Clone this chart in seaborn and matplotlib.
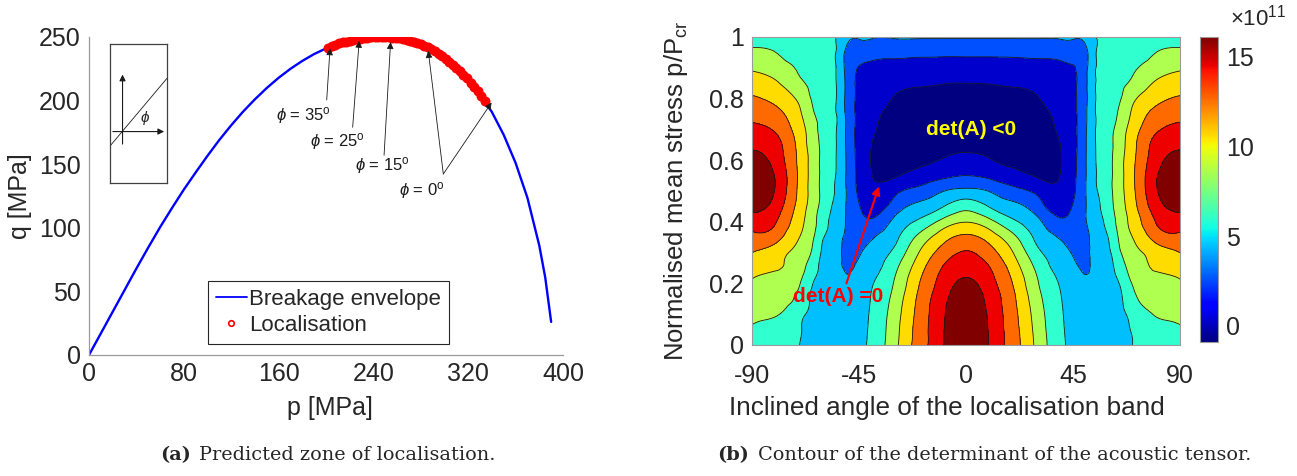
import numpy as np
import pandas as pd
import matplotlib
matplotlib.use("Agg")
import matplotlib.pyplot as plt
import matplotlib.tri as mtri
import seaborn as sns
from matplotlib.lines import Line2D
from matplotlib.colors import Normalize
from matplotlib.cm import ScalarMappable

sns.set_theme(style="white")
plt.rcParams["font.family"] = ["Liberation Sans", "DejaVu Sans"]
plt.rcParams["mathtext.fontset"] = "custom"
plt.rcParams["mathtext.rm"] = "Liberation Sans"
plt.rcParams["mathtext.it"] = "Liberation Sans:italic"
plt.rcParams["axes.unicode_minus"] = False

# ---- (a) breakage envelope ----
env_p = [0, 10, 20, 30, 40, 50, 60, 70, 80, 90, 100, 110, 120, 130, 140, 150, 160, 170,
         180, 190, 200, 210, 220, 230, 240, 250, 260, 270, 280, 290, 300, 310, 320, 330,
         340, 350, 360, 370, 380, 385, 390]
env_q = [0, 17, 34, 51, 68, 84.5, 100.5, 115.5, 130, 143.5, 156.6, 169.1, 180.6, 191.3,
         201.0, 209.9, 217.9, 225.0, 231.2, 236.6, 241.0, 244.6, 247.2, 249.0, 249.9, 249.9,
         249.2, 247.5, 244.5, 240.0, 233.8, 226.0, 216.5, 205.0, 191.0, 173.0, 151.0, 123.5,
         86.0, 61.0, 26.0]

# localisation points (red band)
loc_p = [202, 205, 208, 211, 214, 217, 220, 223, 226, 229, 232, 235, 238, 241, 244, 247,
         250, 253, 256, 259, 262, 265, 268, 271, 274, 277, 280, 283, 286, 289, 292, 295,
         298, 301, 304, 307, 310, 313, 316, 319, 322, 325, 328, 331, 334]
loc_q = [241.7, 242.8, 243.9, 244.9, 245.7, 246.4, 247.2, 247.7, 248.3, 248.8, 249.3, 249.5,
         249.7, 249.9, 249.9, 249.9, 249.9, 249.7, 249.5, 249.3, 248.9, 248.4, 247.8, 247.2,
         246.3, 245.4, 244.5, 243.2, 241.8, 240.5, 238.8, 236.9, 235.0, 233.0, 230.7, 228.3,
         226.0, 223.2, 220.3, 217.5, 214.2, 210.8, 207.3, 203.6, 199.4]

phi_labels = ["35", "25", "15", "0"]
phi_text_xy = [(181, 188), (210, 168), (248, 149), (281, 129)]
phi_tails = [[(200.6, 200.5)], [(222.5, 179)], [(249, 157)], [(299, 142.3), (299, 142.3)]]
phi_heads = [[(203.4, 241.1)], [(228, 247)], [(254.5, 246)], [(286.3, 239), (339.7, 198.4)]]

# ---- (b) determinant of the acoustic tensor (colour-band units), theta >= 0 half ----
det_theta = [0, 10, 20, 30, 40, 45, 50, 55, 60, 65, 70, 80, 90]
det_p = [0.0, 0.05, 0.1, 0.15, 0.2, 0.25, 0.3, 0.35, 0.4, 0.45, 0.5,
         0.55, 0.6, 0.65, 0.7, 0.75, 0.8, 0.85, 0.9, 0.95, 1.0]
det_grid = [
    [9.94, 8.89, 7.45, 5.72, 4.19, 3.75, 3.50, 3.40, 3.45, 3.70, 4.00, 4.30, 4.60],
    [9.85, 8.88, 7.39, 5.63, 4.14, 3.70, 3.45, 3.40, 3.50, 3.75, 4.05, 4.50, 4.90],
    [9.70, 8.82, 7.30, 5.52, 4.09, 3.65, 3.40, 3.40, 3.55, 3.82, 4.25, 5.08, 5.22],
    [9.50, 8.68, 7.17, 5.34, 4.02, 3.60, 3.30, 3.35, 3.58, 3.90, 4.70, 5.25, 5.54],
    [9.20, 8.39, 6.92, 5.09, 3.90, 3.45, 3.12, 3.25, 3.60, 4.10, 5.05, 5.50, 5.86],
    [8.66, 8.03, 6.53, 4.77, 3.63, 3.25, 2.90, 3.30, 3.70, 4.55, 5.35, 6.10, 6.36],
    [8.08, 7.40, 5.97, 4.25, 3.32, 2.90, 2.75, 3.35, 3.82, 4.95, 5.65, 6.45, 7.00],
    [7.22, 6.56, 5.23, 3.75, 2.90, 2.60, 2.75, 3.45, 4.05, 5.25, 6.00, 7.40, 7.74],
    [5.97, 5.30, 4.17, 3.25, 2.18, 2.35, 2.90, 3.60, 4.38, 5.45, 6.32, 8.05, 8.50],
    [4.63, 3.93, 3.27, 2.45, 1.55, 2.07, 2.90, 3.75, 4.62, 5.60, 6.60, 8.55, 9.35],
    [3.26, 2.94, 2.31, 1.75, 1.20, 1.80, 2.90, 3.95, 4.72, 5.70, 6.75, 8.90, 9.85],
    [2.00, 1.75, 1.35, 0.90, 1.05, 1.75, 2.85, 4.03, 4.75, 5.70, 6.80, 8.90, 9.94],
    [1.26, 1.05, 0.75, 0.55, 0.98, 1.70, 2.85, 4.07, 4.75, 5.70, 6.75, 8.60, 9.45],
    [0.80, 0.70, 0.50, 0.45, 1.03, 1.68, 2.82, 4.09, 4.75, 5.60, 6.65, 8.35, 8.80],
    [0.60, 0.55, 0.45, 0.48, 1.20, 1.72, 2.80, 4.10, 4.70, 5.50, 6.45, 7.85, 8.27],
    [0.60, 0.55, 0.52, 0.70, 1.32, 1.78, 2.75, 4.10, 4.62, 5.23, 6.15, 7.30, 7.70],
    [0.75, 0.72, 0.76, 0.95, 1.50, 1.82, 2.70, 4.10, 4.53, 4.96, 5.75, 6.75, 7.12],
    [1.00, 1.03, 1.10, 1.25, 1.62, 1.86, 2.70, 4.08, 4.44, 4.80, 5.15, 6.15, 6.50],
    [1.56, 1.57, 1.60, 1.70, 1.85, 1.97, 2.65, 4.07, 4.34, 4.60, 4.90, 5.45, 5.87],
    [2.20, 2.20, 2.22, 2.25, 2.30, 2.35, 2.70, 4.05, 4.25, 4.43, 4.60, 5.00, 5.21],
    [3.10, 3.10, 3.10, 3.10, 3.12, 3.15, 3.30, 4.05, 4.15, 4.25, 4.30, 4.45, 4.55],
]
band_step = 1.8  # x10^11 per colour band
band_colors = ["#000080", "#0000CC", "#0050FF", "#00BFFF", "#30FFCF",
               "#AFFF50", "#FFDC00", "#FF6A00", "#EE0000", "#800000"]
cbar_min, cbar_max = -0.9, 16.1

W, H = 1297, 476
def fx(x): return x / W
def fy(y): return 1 - y / H

fig = plt.figure(figsize=(W / 100, H / 100), dpi=100)
tick_col = "#262626"
spine_col = "#9a9a9a"

# ================= (a) =================
ax1 = fig.add_axes([fx(89), fy(355), (563 - 89) / W, (355 - 37) / H])
env = pd.DataFrame({"p": env_p, "q": env_q})
sns.lineplot(data=env, x="p", y="q", ax=ax1, color="#0000FF", lw=1.7,
             sort=False, estimator=None, legend=False)
# dense circle markers merge into a solid red band
ax1.plot(loc_p, loc_q, "o", mfc="#FF0000", mec="#FF0000", ms=6.2, mew=1.0, ls="none")

for lab, txy, tails, heads in zip(phi_labels, phi_text_xy, phi_tails, phi_heads):
    for t, h in zip(tails, heads):
        ax1.annotate("", xy=h, xytext=t,
                     arrowprops=dict(arrowstyle="-|>", color="k", lw=0.6,
                                     mutation_scale=10, shrinkA=0, shrinkB=0))
    ax1.text(txy[0], txy[1], r"$\phi$ = " + lab + r"$^{\rm o}$", fontsize=12,
             ha="center", va="center", color="k")

ax1.set_xlim(0, 400)
ax1.set_ylim(0, 250)
ax1.set_xticks([0, 80, 160, 240, 320, 400])
ax1.set_yticks([0, 50, 100, 150, 200, 250])
ax1.tick_params(direction="in", length=4, width=0.8, labelsize=18,
                colors=spine_col, labelcolor=tick_col, pad=6)
ax1.tick_params(axis="x", pad=5)
for s in ["top", "right"]:
    ax1.spines[s].set_visible(False)
for s in ["left", "bottom"]:
    ax1.spines[s].set_color(spine_col)
    ax1.spines[s].set_linewidth(0.9)
ax1.set_xlabel("")
ax1.set_ylabel("")
fig.text(fx(330), fy(408), "p [MPa]", fontsize=18, ha="center", va="center", color=tick_col)
fig.text(fx(20), fy(196), "q [MPa]", fontsize=18, ha="center", va="center",
         rotation=90, color=tick_col)

handles = [Line2D([], [], color="#0000FF", lw=1.3),
           Line2D([], [], color="#FF0000", marker="o", mfc="none", ms=4, mew=1.2, ls="none")]
leg = ax1.legend(handles, ["Breakage envelope", "Localisation"], loc="lower left",
                 bbox_to_anchor=((208 - 89) / 474, (355 - 344) / 318), borderaxespad=0,
                 fontsize=16, frameon=True, fancybox=False, framealpha=1,
                 handlelength=1.4, handletextpad=0.1, borderpad=0.35, labelspacing=0.25)
leg.get_frame().set_edgecolor("#262626")
leg.get_frame().set_linewidth(0.8)

# inset sketch of the band angle
ins = fig.add_axes([fx(110), fy(183), 57 / W, 139 / H])
ins.set_xlim(0, 1)
ins.set_ylim(0, 1)
ins.set_xticks([])
ins.set_yticks([])
for s in ins.spines.values():
    s.set_color("#404040")
    s.set_linewidth(0.9)
ins.annotate("", xy=(0.95, 0.37), xytext=(0.05, 0.37),
             arrowprops=dict(arrowstyle="-|>", color="k", lw=0.8, mutation_scale=9,
                             shrinkA=0, shrinkB=0))
ins.annotate("", xy=(0.22, 0.78), xytext=(0.22, 0.28),
             arrowprops=dict(arrowstyle="-|>", color="k", lw=0.8, mutation_scale=9,
                             shrinkA=0, shrinkB=0))
ins.plot([0, 1], [0.266, 0.753], color="k", lw=0.6)
ins.text(0.61, 0.47, r"$\phi$", fontsize=11, ha="center", va="center")

# ================= (b) =================
ax2 = fig.add_axes([fx(752), fy(345), (1180 - 752) / W, (345 - 37) / H])
th_half = np.array(det_theta, dtype=float)
grid_half = np.array(det_grid, dtype=float)
theta_full = np.concatenate([-th_half[::-1], th_half[1:]])
grid_full = np.hstack([grid_half[:, ::-1], grid_half[:, 1:]])
det_vals = (grid_full - 1.0) * band_step  # band units -> x10^11
T, P = np.meshgrid(theta_full, np.array(det_p))
tri = mtri.Triangulation(T.ravel(), P.ravel())
refiner = mtri.UniformTriRefiner(tri)
tri_f, z_f = refiner.refine_field(det_vals.ravel(), subdiv=4)
levels = [-50] + [band_step * k for k in range(0, 9)] + [50]
ax2.tricontourf(tri_f, z_f, levels=levels, colors=band_colors)
ax2.tricontour(tri_f, z_f, levels=levels[1:-1], colors="k", linewidths=0.6)
ax2.set_xlim(-90, 90)
ax2.set_ylim(0, 1)
ax2.set_xticks([-90, -45, 0, 45, 90])
ax2.set_yticks([0, 0.2, 0.4, 0.6, 0.8, 1.0])
ax2.set_yticklabels(["0", "0.2", "0.4", "0.6", "0.8", "1"])
ax2.tick_params(direction="in", length=3, width=0.8, labelsize=18,
                colors=spine_col, labelcolor=tick_col, pad=6)
ax2.tick_params(axis="x", pad=14)
for s in ax2.spines.values():
    s.set_color(spine_col)
    s.set_linewidth(0.8)

ax2.text(2, 0.70, "det(A) <0", color="#FFFF00", fontsize=15, fontweight="bold",
         ha="center", va="center")
ax2.text(-53.8, 0.156, "det(A) =0", color="#FF0000", fontsize=15, fontweight="bold",
         ha="center", va="center")
ax2.annotate("", xy=(-36.6, 0.515), xytext=(-50.3, 0.20),
             arrowprops=dict(arrowstyle="-|>", color="#FF0000", lw=1.5,
                             mutation_scale=12, shrinkA=0, shrinkB=0))

fig.text(fx(676), fy(191), r"Normalised mean stress p/P$_{\rm cr}$", fontsize=18.5,
         ha="center", va="center", rotation=90, color=tick_col)
fig.text(fx(947), fy(408), "Inclined angle of the localisation band", fontsize=18.8,
         ha="center", va="center", color=tick_col)

cax = fig.add_axes([fx(1200), fy(342), 18 / W, (342 - 37) / H])
cb = fig.colorbar(ScalarMappable(norm=Normalize(cbar_min, cbar_max), cmap="jet"), cax=cax)
cb.set_ticks([0, 5, 10, 15])
cb.ax.tick_params(labelsize=18, direction="in", length=3, colors=spine_col,
                  labelcolor=tick_col, pad=6)
cb.outline.set_edgecolor(spine_col)
cb.outline.set_linewidth(0.8)
fig.text(fx(1258), fy(18), r"$\times10^{11}$", fontsize=16, ha="center", va="center",
         color=tick_col)

# ---- captions ----
cap_font = ["DejaVu Serif"]
fig.text(fx(160), fy(455), "(a)", fontsize=13.9, fontweight="bold", family=cap_font,
         ha="left", va="center")
fig.text(fx(199), fy(455), "Predicted zone of localisation.", fontsize=13.9,
         family=cap_font, ha="left", va="center")
fig.text(fx(717), fy(455), "(b)", fontsize=13.9, fontweight="bold", family=cap_font,
         ha="left", va="center")
fig.text(fx(758), fy(455), "Contour of the determinant of the acoustic tensor.",
         fontsize=13.9, family=cap_font, ha="left", va="center")

fig.savefig("out.png", dpi=100)
